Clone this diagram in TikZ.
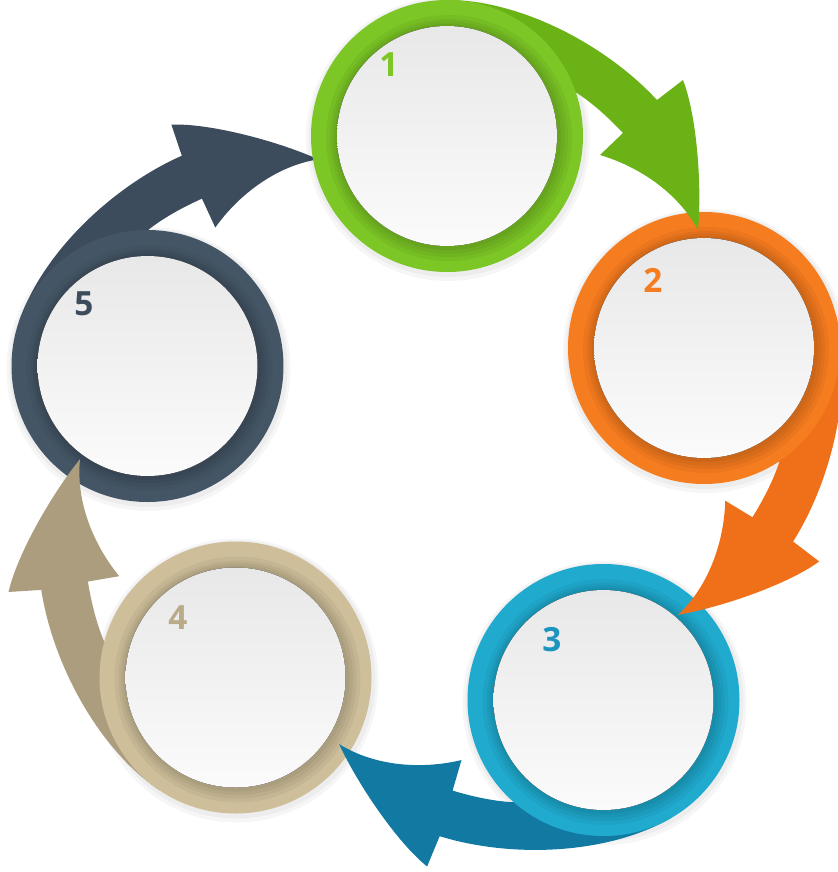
\documentclass[tikz,border=0pt]{standalone}
\usepackage{fontspec}
\newfontfamily\numfont{Open Sans}

\definecolor{greenring}{RGB}{124,198,38}
\definecolor{greenarrow}{RGB}{106,178,22}
\definecolor{orangering}{RGB}{246,124,32}
\definecolor{orangearrow}{RGB}{240,112,26}
\definecolor{bluering}{RGB}{32,170,206}
\definecolor{bluearrow}{RGB}{18,122,162}
\definecolor{bluetext}{RGB}{28,148,190}
\definecolor{sandring}{RGB}{206,191,154}
\definecolor{sandarrow}{RGB}{172,157,126}
\definecolor{sandtext}{RGB}{186,171,136}
\definecolor{slatering}{RGB}{68,86,102}
\definecolor{slatearrow}{RGB}{60,76,92}
\definecolor{disctop}{RGB}{232,232,232}
\definecolor{discbottom}{RGB}{251,251,251}

\tikzset{every picture/.style={line width=0.75pt},
  halo/.style={fill=black, fill opacity=0.035},
  ringshade/.style={fill=black, fill opacity=0.045},
  disc/.style={top color=disctop, bottom color=discbottom},
  numlabel/.style={font=\numfont\bfseries\fontsize{25}{25}\selectfont, inner sep=0.75pt}}

\begin{document}
\begin{tikzpicture}[x=0.75pt,y=0.75pt,yscale=-1,xscale=1]
\useasboundingbox (0,0) rectangle (838,872);

%Centres of the five rings
\coordinate (c1) at (447,136);
\coordinate (c2) at (704,348);
\coordinate (c3) at (603.5,700);
\coordinate (c4) at (235.5,677.5);
\coordinate (c5) at (147.5,366);

%Ring 5 [slate]
\fill [halo] (c5) ++(1,3) circle (142);
\fill [halo] (c5) ++(1,2) circle (139);
\fill [slatearrow, shift={(c5)}, rotate=-71] (0,-136) .. controls (75,-136) and (160,-90) .. (210,-36) -- (236,-56) .. controls (250,-20) and (255,50) .. (251,94) .. controls (230,55) and (190,30) .. (153,19) -- (176,-3) .. controls (160,-20) and (145,-33) .. (130,-43) -- (60,-60) -- (0,-120) -- cycle ;
\fill [slatering] (c5) circle (136);
\fill [ringshade] (c5) ++(2,2) circle (123);
\fill [ringshade] (c5) ++(2,2) circle (119);
\fill [ringshade] (c5) ++(1.5,1.5) circle (116);
\fill [ringshade] (c5) ++(1,1) circle (113);
\fill [disc] (c5) circle (110);
% Text Node
\node [numlabel, text=slatearrow] (n5) at (84,304) {5};

%Ring 4 [sand]
\fill [halo] (c4) ++(1,3) circle (142);
\fill [halo] (c4) ++(1,2) circle (139);
\fill [sandarrow, shift={(c4)}, rotate=214] (0,-136) .. controls (75,-136) and (160,-90) .. (210,-36) -- (236,-56) .. controls (250,-20) and (255,50) .. (251,94) .. controls (230,55) and (190,30) .. (153,19) -- (176,-3) .. controls (160,-20) and (145,-33) .. (130,-43) -- (60,-60) -- (0,-120) -- cycle ;
\fill [sandring] (c4) circle (136);
\fill [ringshade] (c4) ++(2,2) circle (123);
\fill [ringshade] (c4) ++(2,2) circle (119);
\fill [ringshade] (c4) ++(1.5,1.5) circle (116);
\fill [ringshade] (c4) ++(1,1) circle (113);
\fill [disc] (c4) circle (110);
% Text Node
\node [numlabel, text=sandtext] (n4) at (178,618) {4};

%Ring 3 [blue]
\fill [halo] (c3) ++(1,3) circle (142);
\fill [halo] (c3) ++(1,2) circle (139);
\fill [bluearrow, shift={(c3)}, rotate=150] (0,-136) .. controls (75,-136) and (160,-90) .. (210,-36) -- (236,-56) .. controls (250,-20) and (255,50) .. (251,94) .. controls (230,55) and (190,30) .. (153,19) -- (176,-3) .. controls (160,-20) and (145,-33) .. (130,-43) -- (60,-60) -- (0,-120) -- cycle ;
\fill [bluering] (c3) circle (136);
\fill [ringshade] (c3) ++(2,2) circle (123);
\fill [ringshade] (c3) ++(2,2) circle (119);
\fill [ringshade] (c3) ++(1.5,1.5) circle (116);
\fill [ringshade] (c3) ++(1,1) circle (113);
\fill [disc] (c3) circle (110);
% Text Node
\node [numlabel, text=bluetext] (n3) at (552,640) {3};

%Ring 2 [orange]
\fill [halo] (c2) ++(1,3) circle (142);
\fill [halo] (c2) ++(1,2) circle (139);
\fill [orangearrow, shift={(c2)}, rotate=75] (0,-136) .. controls (75,-136) and (160,-90) .. (210,-36) -- (236,-56) .. controls (250,-20) and (255,50) .. (251,94) .. controls (230,55) and (190,30) .. (153,19) -- (176,-3) .. controls (160,-20) and (145,-33) .. (130,-43) -- (60,-60) -- (0,-120) -- cycle ;
\fill [orangering] (c2) circle (136);
\fill [ringshade] (c2) ++(2,2) circle (123);
\fill [ringshade] (c2) ++(2,2) circle (119);
\fill [ringshade] (c2) ++(1.5,1.5) circle (116);
\fill [ringshade] (c2) ++(1,1) circle (113);
\fill [disc] (c2) circle (110);
% Text Node
\node [numlabel, text=orangering] (n2) at (653,280) {2};

%Ring 1 [green]
\fill [halo] (c1) ++(1,3) circle (142);
\fill [halo] (c1) ++(1,2) circle (139);
\fill [greenarrow, shift={(c1)}, rotate=0] (0,-136) .. controls (75,-136) and (160,-90) .. (210,-36) -- (236,-56) .. controls (250,-20) and (255,50) .. (251,94) .. controls (230,55) and (190,30) .. (153,19) -- (176,-3) .. controls (160,-20) and (145,-33) .. (130,-43) -- (60,-60) -- (0,-120) -- cycle ;
\fill [greenring] (c1) circle (136);
\fill [ringshade] (c1) ++(2,2) circle (123);
\fill [ringshade] (c1) ++(2,2) circle (119);
\fill [ringshade] (c1) ++(1.5,1.5) circle (116);
\fill [ringshade] (c1) ++(1,1) circle (113);
\fill [disc] (c1) circle (110);
% Text Node
\node [numlabel, text=greenring] (n1) at (389,65) {1};

\end{tikzpicture}
\end{document}
